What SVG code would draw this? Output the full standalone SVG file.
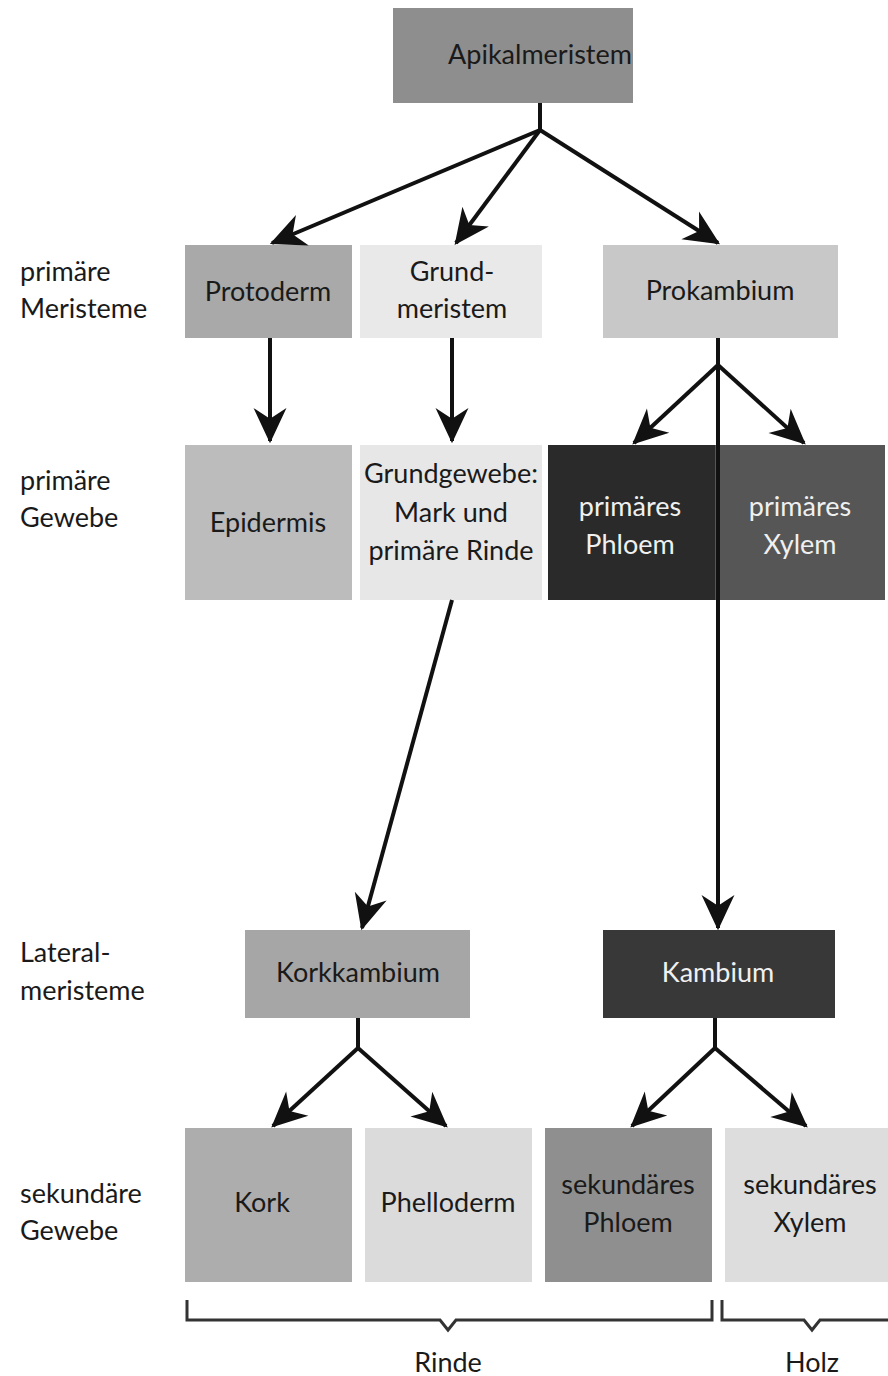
<svg xmlns="http://www.w3.org/2000/svg" width="888" height="1376" viewBox="0 0 888 1376">
<defs>
<marker id="ah" markerUnits="userSpaceOnUse" markerWidth="40" markerHeight="40" viewBox="-30 -15 34 30" refX="0" refY="0" orient="auto">
<path d="M2,0 L-28,-14 L-19,0 L-28,14 Z" fill="#111"/>
</marker>
<style>
.t{font-family:Lato,"Open Sans","Liberation Sans",sans-serif;font-size:27px;fill:#1a1a1a;text-anchor:middle}
.w{fill:#f0f0f0}
.l{font-family:Lato,"Open Sans","Liberation Sans",sans-serif;font-size:27px;fill:#1a1a1a}
.c{stroke:#111;stroke-width:4;fill:none}
.a{stroke:#111;stroke-width:4;fill:none;marker-end:url(#ah)}
.b{stroke:#333;stroke-width:3;fill:none}
</style>
</defs>
<rect width="888" height="1376" fill="#fff"/>
<g id="labels">
<text class="l" x="20" y="281">primäre</text><text class="l" x="20" y="318">Meristeme</text>
<text class="l" x="20" y="490">primäre</text><text class="l" x="20" y="527">Gewebe</text>
<text class="l" x="20" y="962">Lateral-</text><text class="l" x="20" y="1000">meristeme</text>
<text class="l" x="20" y="1203">sekundäre</text><text class="l" x="20" y="1240">Gewebe</text>
</g>
<g id="apikal"><rect x="393" y="8" width="240" height="95" fill="#8e8e8e"/><text class="t" x="540" y="64">Apikalmeristem</text></g>
<g id="protoderm"><rect x="185" y="245" width="167" height="93" fill="#a9a9a9"/><text class="t" x="268" y="301">Protoderm</text></g>
<g id="grundmeristem"><rect x="360" y="245" width="182" height="93" fill="#e9e9e9"/><text class="t" x="452" y="281">Grund-</text><text class="t" x="452" y="318">meristem</text></g>
<g id="prokambium"><rect x="603" y="245" width="235" height="93" fill="#c8c8c8"/><text class="t" x="720" y="300">Prokambium</text></g>
<g id="epidermis"><rect x="185" y="445" width="167" height="155" fill="#bcbcbc"/><text class="t" x="268" y="532">Epidermis</text></g>
<g id="grundgewebe"><rect x="360" y="445" width="182" height="155" fill="#e7e7e7"/><text class="t" x="451" y="483">Grundgewebe:</text><text class="t" x="451" y="522">Mark und</text><text class="t" x="451" y="560">primäre Rinde</text></g>
<g id="prim-phloem"><rect x="548" y="445" width="167" height="155" fill="#2a2a2a"/><text class="t w" x="630" y="516">primäres</text><text class="t w" x="630" y="554">Phloem</text></g>
<g id="prim-xylem"><rect x="715" y="445" width="170" height="155" fill="#565656"/><text class="t w" x="800" y="516">primäres</text><text class="t w" x="800" y="554">Xylem</text></g>
<g id="korkkambium"><rect x="245" y="930" width="225" height="88" fill="#a6a6a6"/><text class="t" x="358" y="982">Korkkambium</text></g>
<g id="kambium"><rect x="603" y="930" width="232" height="88" fill="#383838"/><text class="t w" x="718" y="982">Kambium</text></g>
<g id="kork"><rect x="185" y="1128" width="167" height="154" fill="#adadad"/><text class="t" x="262" y="1212">Kork</text></g>
<g id="phelloderm"><rect x="365" y="1128" width="167" height="154" fill="#dbdbdb"/><text class="t" x="448" y="1212">Phelloderm</text></g>
<g id="sek-phloem"><rect x="545" y="1128" width="167" height="154" fill="#8f8f8f"/><text class="t" x="628" y="1194">sekundäres</text><text class="t" x="628" y="1232">Phloem</text></g>
<g id="sek-xylem"><rect x="725" y="1128" width="165" height="154" fill="#dddddd"/><text class="t" x="810" y="1194">sekundäres</text><text class="t" x="810" y="1232">Xylem</text></g>
<g id="connectors">
<path class="c" d="M540,103 V130"/>
<path class="a" d="M540,130 L272,243"/>
<path class="a" d="M540,130 L456,243"/>
<path class="a" d="M540,130 L718,243"/>
<path class="a" d="M270,338 V441"/>
<path class="a" d="M452,338 V441"/>
<path class="c" d="M718,338 V365"/>
<path class="a" d="M718,365 L634,443"/>
<path class="a" d="M718,365 L804,443"/>
<path class="a" d="M718,365 V928"/>
<path class="a" d="M452,600 L362,928"/>
<path class="c" d="M358,1018 V1048"/>
<path class="a" d="M358,1048 L273,1126"/>
<path class="a" d="M358,1048 L446,1126"/>
<path class="c" d="M715,1018 V1048"/>
<path class="a" d="M715,1048 L632,1126"/>
<path class="a" d="M715,1048 L806,1126"/>
</g>
<g id="brackets">
<path class="b" d="M187,1300 V1320 H440 L448,1330 L456,1320 H712 V1300"/>
<path class="b" d="M722,1300 V1320 H804 L812,1330 L820,1320 H888"/>
<text class="t" x="448" y="1372">Rinde</text>
<text class="t" x="812" y="1372">Holz</text>
</g>
</svg>
